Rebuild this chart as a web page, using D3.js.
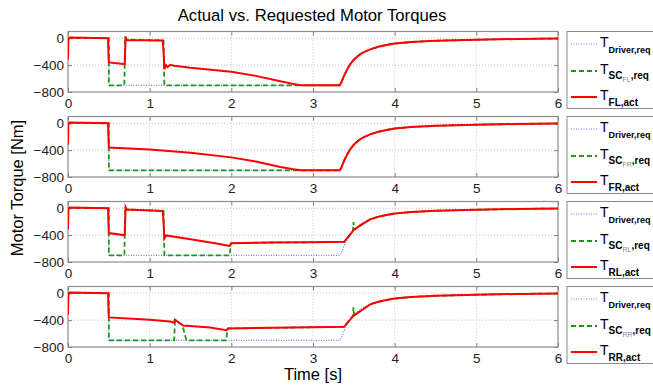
<!DOCTYPE html>
<html>
<head>
<meta charset="utf-8">
<script src="https://cdn.jsdelivr.net/npm/d3@7"></script>
<style>
body { margin: 0; background: #fff; }
svg text { font-family: "Liberation Sans", Arial, sans-serif; }
</style>
</head>
<body>
<div id="chart"></div>
<script>
var wheels = ["FL", "FR", "RL", "RR"];
var xTicks = [0, 1, 2, 3, 4, 5, 6];
var yTicks = [-800, -400, 0];

// driver request, same in every panel
var driverReq = [[0,0],[0.5,0],[0.5,-700],[3.33,-700],[3.35,-650],[3.38,-560],[3.42,-460],[3.46,-380],[3.5,-320],
  [3.55,-265],[3.6,-220],[3.7,-165],[3.8,-128],[3.9,-100],[4.0,-80],[4.2,-57],[4.5,-38],[5.0,-22],[5.5,-11],[6.0,-4]];

// recovery after the braking event
var decayTail = [[3.35,-650],[3.38,-560],[3.42,-460],[3.46,-380],[3.5,-320],[3.55,-265],[3.6,-220],[3.7,-165],
  [3.8,-128],[3.9,-100],[4.0,-80],[4.2,-57],[4.5,-38],[5.0,-22],[5.5,-11],[6.0,-4]];
var rearTail = decayTail.filter(function(d) { return d[0] >= 3.7; });

var flScReq = [[0,0],[0.5,0],[0.5,-700],[0.69,-700],[0.70,25],[0.71,-20],[1.17,-35],[1.18,-700],[2.85,-700],[3.33,-700]].concat(decayTail);
var flAct = [[0,-320],[0.005,-20],[0.02,10],[0.49,0],[0.495,-200],[0.5,-360],[0.68,-385],[0.695,-380],[0.705,20],[0.72,-25],
  [1.16,-35],[1.17,-200],[1.18,-460],[1.2,-400],[1.22,-430],[1.25,-395],[1.3,-410],[1.5,-440],[2.0,-500],[2.3,-560],
  [2.6,-640],[2.8,-690],[2.85,-700],[3.33,-700]].concat(decayTail);

var frScReq = [[0,0],[0.5,0],[0.5,-700],[2.85,-700],[3.33,-700]].concat(decayTail);
var frAct = [[0,-320],[0.005,-20],[0.02,10],[0.49,0],[0.495,-200],[0.5,-360],[1.0,-390],[1.5,-440],[2.0,-508],
  [2.3,-570],[2.6,-650],[2.76,-686],[2.85,-700],[3.33,-700]].concat(decayTail);

var rlScReq = [[0,0],[0.5,0],[0.5,-700],[0.69,-700],[0.70,20],[0.71,-20],[1.17,-40],[1.18,-700],[1.98,-700],[1.99,-560],
  [2.0,-520],[2.5,-510],[3.0,-505],[3.38,-500],[3.45,-400],[3.49,-335],[3.495,-205],[3.505,-320],[3.6,-240]].concat(rearTail);
var rlAct = [[0,-310],[0.005,-20],[0.02,10],[0.49,0],[0.495,-200],[0.5,-370],[0.68,-400],[0.695,-395],[0.705,15],[0.72,-20],
  [1.16,-40],[1.17,-200],[1.18,-450],[1.2,-405],[1.5,-460],[1.8,-520],[1.98,-560],[2.0,-520],[2.5,-510],[3.0,-505],
  [3.38,-500],[3.45,-400],[3.49,-335],[3.5,-320],[3.6,-240]].concat(rearTail);

var rrScReq = [[0,0],[0.5,0],[0.5,-700],[1.30,-700],[1.31,-410],[1.36,-440],[1.40,-470],[1.45,-700],[1.94,-700],[1.95,-540],
  [1.96,-525],[2.5,-515],[3.0,-505],[3.38,-500],[3.45,-400],[3.49,-340],[3.495,-210],[3.505,-330],[3.6,-250]].concat(rearTail);
var rrAct = [[0,-320],[0.005,-20],[0.02,10],[0.49,0],[0.495,-200],[0.5,-360],[1.0,-395],[1.25,-420],[1.3,-440],[1.31,-395],
  [1.36,-440],[1.41,-480],[1.74,-510],[1.94,-550],[1.96,-525],[2.5,-515],[3.0,-505],[3.38,-500],[3.45,-400],[3.49,-340],
  [3.6,-250]].concat(rearTail);

var scReqs = [flScReq, frScReq, rlScReq, rrScReq];
var acts = [flAct, frAct, rlAct, rrAct];

var W = 653, H = 386;
var plotLeft = 68, plotRight = 558, top0 = 31.5, panelH = 60.5, panelStep = 85;

var svg = d3.select("#chart").append("svg")
    .attr("width", W)
    .attr("height", H);

var x = d3.scaleLinear().domain([0, 6]).range([plotLeft, plotRight]);

// TITLE + AXIS LABELS
svg.append("text")
    .attr("x", 312).attr("y", 21)
    .attr("text-anchor", "middle")
    .style("font-size", "16.7px")
    .text("Actual vs. Requested Motor Torques");

svg.append("text")
    .attr("x", 313).attr("y", 380)
    .attr("text-anchor", "middle")
    .style("font-size", "16.5px")
    .text("Time [s]");

svg.append("text")
    .attr("transform", "translate(23,188) rotate(-90)")
    .attr("text-anchor", "middle")
    .style("font-size", "16.5px")
    .text("Motor Torque [Nm]");

wheels.forEach(function(wheel, i) {
    var top = top0 + i * panelStep;
    var y = d3.scaleLinear().domain([-800, 100]).range([top + panelH, top]);
    var g = svg.append("g");

    g.append("clipPath").attr("id", "clip" + i)
        .append("rect")
        .attr("x", plotLeft).attr("y", top)
        .attr("width", plotRight - plotLeft).attr("height", panelH);

    // GRID
    g.selectAll(".vgrid").data(xTicks.slice(1, -1)).enter().append("line")
        .attr("x1", function(d) { return x(d); }).attr("x2", function(d) { return x(d); })
        .attr("y1", top).attr("y2", top + panelH)
        .attr("stroke", "#c4c4c4").attr("stroke-dasharray", "1,2");
    g.selectAll(".hgrid").data(yTicks.slice(1)).enter().append("line")
        .attr("x1", plotLeft).attr("x2", plotRight)
        .attr("y1", function(d) { return y(d); }).attr("y2", function(d) { return y(d); })
        .attr("stroke", "#c4c4c4").attr("stroke-dasharray", "1,2");

    // AXES
    var xa = g.append("g").attr("transform", "translate(0," + (top + panelH) + ")")
        .call(d3.axisBottom(x).tickValues(xTicks).tickFormat(d3.format("d")).tickSize(-4).tickPadding(6));
    var xt = g.append("g").attr("transform", "translate(0," + top + ")")
        .call(d3.axisTop(x).tickValues(xTicks).tickSize(-4).tickFormat(""));
    var ya = g.append("g").attr("transform", "translate(" + plotLeft + ",0)")
        .call(d3.axisLeft(y).tickValues(yTicks).tickFormat(d3.format("d")).tickSize(-4).tickPadding(4));
    var yr = g.append("g").attr("transform", "translate(" + plotRight + ",0)")
        .call(d3.axisRight(y).tickValues(yTicks).tickSize(-4).tickFormat(""));
    [xa, xt, ya, yr].forEach(function(a) {
        a.select(".domain").remove();
        a.selectAll(".tick line").attr("stroke", "#808080");
        a.selectAll("text").attr("fill", "#222").style("font-size", "13.5px")
            .style("font-family", "'Liberation Sans', Arial, sans-serif");
    });

    g.append("rect")
        .attr("x", plotLeft).attr("y", top)
        .attr("width", plotRight - plotLeft).attr("height", panelH)
        .attr("fill", "none").attr("stroke", "#8c8c8c").attr("stroke-width", 1.2);

    // LINES
    var path = d3.line()
        .x(function(d) { return x(d[0]); })
        .y(function(d) { return y(d[1]); });
    var lines = g.append("g").attr("clip-path", "url(#clip" + i + ")");
    lines.append("path").attr("d", path(driverReq))
        .attr("fill", "none").attr("stroke", "#7a7aff").attr("stroke-width", 1.2).attr("stroke-dasharray", "1,1.5");
    lines.append("path").attr("d", path(scReqs[i]))
        .attr("fill", "none").attr("stroke", "#1e961e").attr("stroke-width", 1.8).attr("stroke-dasharray", "5,3");
    lines.append("path").attr("d", path(acts[i]))
        .attr("fill", "none").attr("stroke", "#ff0000").attr("stroke-width", 2);

    // LEGEND
    var lg = svg.append("g").attr("transform", "translate(567," + top + ")");
    lg.append("rect").attr("width", 100).attr("height", 77)
        .attr("fill", "#fff").attr("stroke", "#8c8c8c");
    var rows = [
        {dy: 12.5, color: "#7a7aff", dash: "1,1.5", w: 1.2},
        {dy: 39.5, color: "#1e961e", dash: "5,3", w: 1.8},
        {dy: 65.5, color: "#ff0000", dash: null, w: 2}
    ];
    rows.forEach(function(r) {
        lg.append("line").attr("x1", 4).attr("x2", 30).attr("y1", r.dy).attr("y2", r.dy)
            .attr("stroke", r.color).attr("stroke-width", r.w).attr("stroke-dasharray", r.dash);
    });
    var t1 = lg.append("text").attr("x", 33).attr("y", 15).style("font-size", "14px");
    t1.append("tspan").text("T");
    t1.append("tspan").attr("dy", 6).style("font-size", "9px").style("font-weight", "bold").text("Driver,req");

    var t2 = lg.append("text").attr("x", 33).attr("y", 42).style("font-size", "14px");
    t2.append("tspan").text("T");
    t2.append("tspan").attr("dy", 5).style("font-size", "10px").style("font-weight", "bold").text("SC");
    t2.append("tspan").attr("dy", 3).style("font-size", "7px").attr("fill", "#8a8a8a").text(wheel);
    t2.append("tspan").attr("dy", -3).style("font-size", "10px").style("font-weight", "bold").text(",req");

    var t3 = lg.append("text").attr("x", 33).attr("y", 68).style("font-size", "14px");
    t3.append("tspan").text("T");
    t3.append("tspan").attr("dy", 6).style("font-size", "10px").style("font-weight", "bold").text(wheel + ",act");
});
</script>
</body>
</html>
